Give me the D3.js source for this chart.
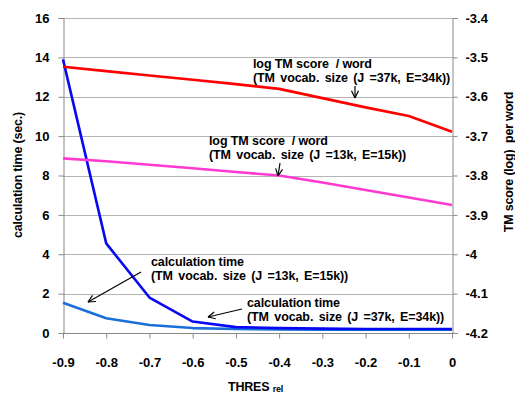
<!DOCTYPE html>
<html>
<head>
<meta charset="utf-8">
<script src="https://cdn.jsdelivr.net/npm/d3@7"></script>
<style>
  body { margin: 0; background: #fff; }
  text { font-family: "Liberation Sans", Arial, sans-serif; font-weight: bold; fill: #000; white-space: pre; }
</style>
</head>
<body>
<div class="chart"></div>
<script>
var width = 515
var height = 394

// threshold values on the x axis
var thresholds = [-0.9, -0.8, -0.7, -0.6, -0.5, -0.4, -0.3, -0.2, -0.1, 0]
// calculation time (sec.), left axis
var calcTime37k = [13.9, 4.55, 1.8, 0.58, 0.3, 0.25, 0.22, 0.2, 0.2, 0.2]
var calcTime13k = [1.54, 0.75, 0.41, 0.25, 0.2, 0.18, 0.17, 0.17, 0.17, 0.17]
// log TM score per word, right axis
var logScore37k = [-3.524, -3.535, -3.546, -3.557, -3.568, -3.58, -3.6035, -3.627, -3.649, -3.689]
var logScore13k = [-3.7565, -3.764, -3.7725, -3.7815, -3.791, -3.8, -3.818, -3.837, -3.856, -3.875]

var leftTicks = [0, 2, 4, 6, 8, 10, 12, 14, 16]
var rightTicks = [-4.2, -4.1, -4.0, -3.9, -3.8, -3.7, -3.6, -3.5, -3.4]
var xTickLabels = ["-0.9", "-0.8", "-0.7", "-0.6", "-0.5", "-0.4", "-0.3", "-0.2", "-0.1", "0"]

var plotLeft = 63, plotRight = 452, plotTop = 18, plotBottom = 333

var svg = d3.select(".chart").append("svg")
            .attr("width", width)
            .attr("height", height)

var x = d3.scaleLinear().domain([-0.9, 0]).range([plotLeft, plotRight])
var yLeft = d3.scaleLinear().domain([0, 16]).range([plotBottom, plotTop])
var yRight = d3.scaleLinear().domain([-4.2, -3.4]).range([plotBottom, plotTop])

// grid
svg.selectAll(".grid")
   .data(leftTicks.slice(1))
   .enter().append("line")
   .attr("x1", plotLeft).attr("x2", plotRight)
   .attr("y1", function(d) { return Math.round(yLeft(d)) + 0.5 })
   .attr("y2", function(d) { return Math.round(yLeft(d)) + 0.5 })
   .attr("stroke", "#b4b4b4")
   .attr("stroke-width", 1)

// axes
var leftAxis = d3.axisLeft(yLeft).tickValues(leftTicks).tickSize(5).tickPadding(9)
var rightAxis = d3.axisRight(yRight).tickValues(rightTicks).tickSize(5).tickPadding(8)
                  .tickFormat(function(d) { return String(+d.toFixed(1)) })
var bottomAxis = d3.axisBottom(x).tickValues(thresholds).tickSize(5).tickPadding(19)
                   .tickFormat(function(d, i) { return xTickLabels[i] })

var gl = svg.append("g").attr("transform", "translate(" + (plotLeft + 0.5) + ",0)").call(leftAxis)
var gr = svg.append("g").attr("transform", "translate(" + (plotRight + 0.5) + ",0)").call(rightAxis)
var gb = svg.append("g").attr("transform", "translate(0," + (plotBottom + 0.5) + ")").call(bottomAxis)

;[gl, gr, gb].forEach(function(g) {
  g.attr("font-family", null).attr("font-size", null)
  g.selectAll(".domain").attr("stroke", "#888")
  g.selectAll(".tick line").attr("stroke", "#888")
  g.selectAll("text").style("font-size", "13px").attr("fill", "#000")
})
gb.select(".domain").remove()
svg.append("line").attr("x1", plotLeft).attr("x2", plotRight + 1)
   .attr("y1", plotBottom + 0.5).attr("y2", plotBottom + 0.5).attr("stroke", "#888")

// lines
var lineLeft = function(values) {
  return d3.line().x(function(d, i) { return x(thresholds[i]) })
                  .y(function(d) { return yLeft(d) })(values)
}
var lineRight = function(values) {
  return d3.line().x(function(d, i) { return x(thresholds[i]) })
                  .y(function(d) { return yRight(d) })(values)
}

var series = [
  { path: lineLeft(calcTime13k), color: "#1a6fd8" },
  { path: lineLeft(calcTime37k), color: "#0808f2" },
  { path: lineRight(logScore13k), color: "#ff3ad0" },
  { path: lineRight(logScore37k), color: "#ff0000" }
]

svg.selectAll(".series")
   .data(series)
   .enter().append("path")
   .attr("d", function(d) { return d.path })
   .attr("fill", "none")
   .attr("stroke", function(d) { return d.color })
   .attr("stroke-width", 2.6)
   .attr("stroke-linejoin", "round")

// annotations
var notes = [
  { x: 253, y: 68, lines: ["log TM score  / word", "(TM vocab. size (J =37k, E=34k))"], from: [355, 86], to: [355, 98] },
  { x: 209, y: 145, lines: ["log TM score  / word", "(TM vocab. size (J =13k, E=15k))"], from: [280, 163], to: [278, 176] },
  { x: 151, y: 266, lines: ["calculation time", "(TM vocab. size (J =13k, E=15k))"], from: [141, 272], to: [88, 302] },
  { x: 247, y: 307, lines: ["calculation time", "(TM vocab. size (J =37k, E=34k))"], from: [242, 309], to: [208, 317] }
]

notes.forEach(function(n) {
  var t = svg.append("text").attr("x", n.x).attr("y", n.y)
             .style("font-size", "12.5px").style("letter-spacing", "-0.1px")
  n.lines.forEach(function(s, i) {
    t.append("tspan").attr("x", n.x).attr("dy", i == 0 ? 0 : 14)
     .style("word-spacing", i == 0 ? "0px" : "2px").text(s)
  })
  svg.append("line")
     .attr("x1", n.from[0]).attr("y1", n.from[1])
     .attr("x2", n.to[0]).attr("y2", n.to[1])
     .attr("stroke", "#000").attr("stroke-width", 1.2)
  var a = Math.atan2(n.to[1] - n.from[1], n.to[0] - n.from[0])
  var len = 8
  ;[a + Math.PI - 0.45, a + Math.PI + 0.45].forEach(function(b) {
    svg.append("line")
       .attr("x1", n.to[0]).attr("y1", n.to[1])
       .attr("x2", n.to[0] + len * Math.cos(b)).attr("y2", n.to[1] + len * Math.sin(b))
       .attr("stroke", "#000").attr("stroke-width", 1.2)
  })
})

// axis titles
svg.append("text")
   .attr("transform", "translate(22,175) rotate(-90)")
   .attr("text-anchor", "middle")
   .style("font-size", "12.5px").style("letter-spacing", "-0.2px")
   .text("calculation time (sec.)")

svg.append("text")
   .attr("transform", "translate(513,162) rotate(-90)")
   .attr("text-anchor", "middle")
   .style("font-size", "12.5px").style("letter-spacing", "-0.2px")
   .text("TM score (log)  per word")

var xt = svg.append("text")
   .attr("x", 228).attr("y", 391)
   .style("font-size", "12.5px").style("letter-spacing", "-0.2px")
xt.append("tspan").text("THRES ")
xt.append("tspan").style("font-size", "9px").attr("dy", 1).text("rel")
</script>
</body>
</html>
